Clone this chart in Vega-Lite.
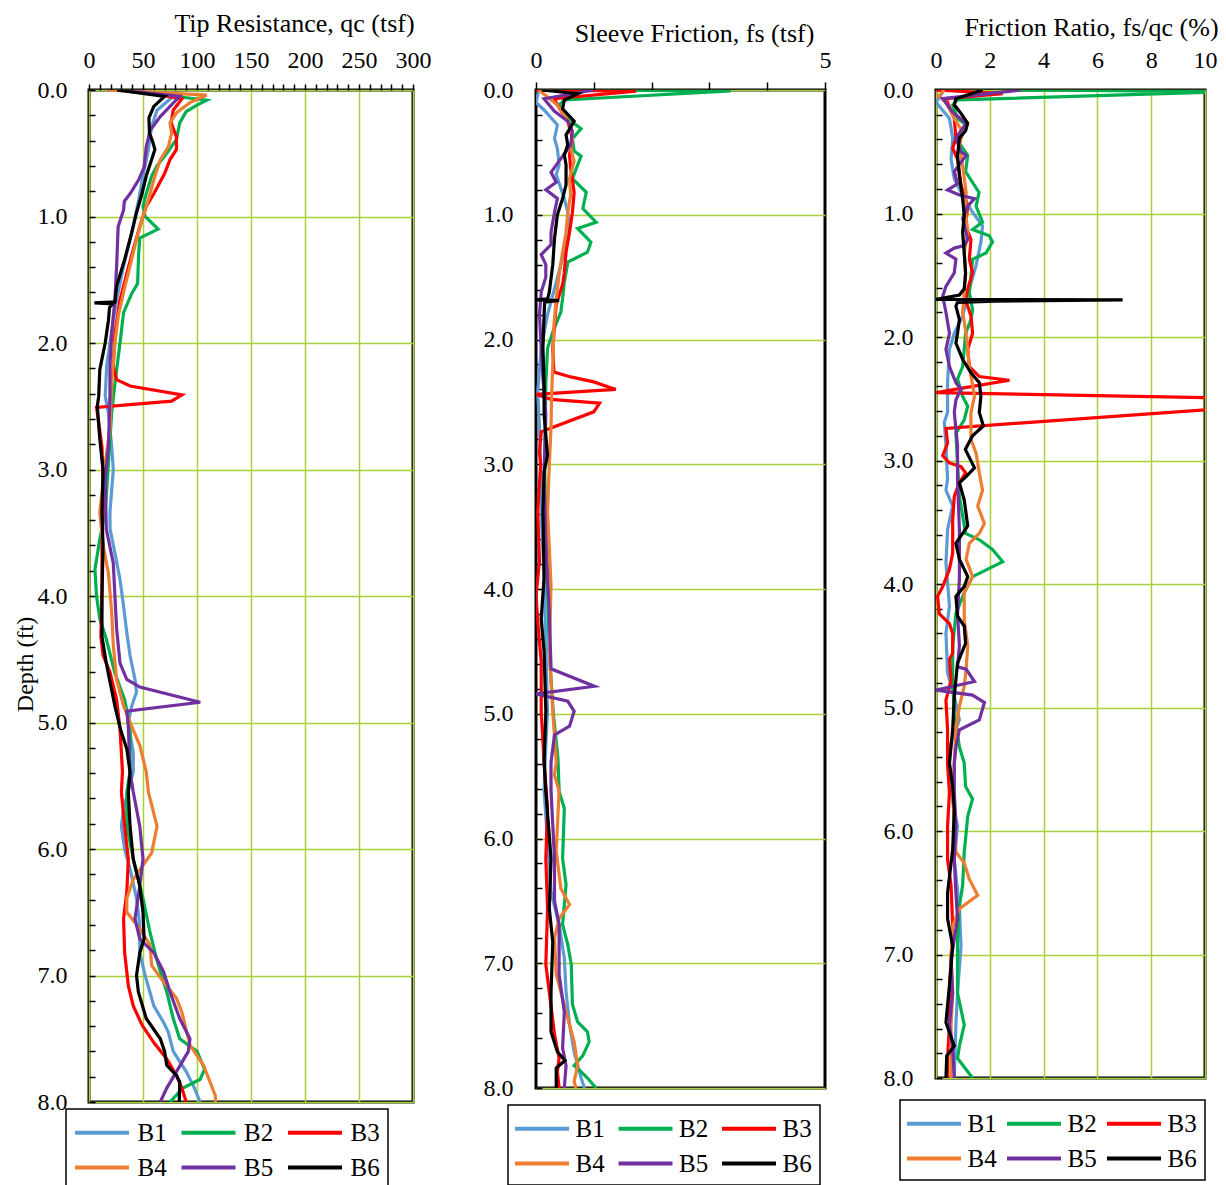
{
"$schema": "https://vega.github.io/schema/vega-lite/v6.json",
"padding": {"left": 11, "top": 8, "right": 2, "bottom": 0},
"spacing": 48,
"datasets": {
"qc": [
{"s":"B1","d":0,"v":24},{"s":"B1","d":0.05,"v":78},{"s":"B1","d":0.16,"v":63},{"s":"B1","d":0.29,"v":58},{"s":"B1","d":0.47,"v":55},{"s":"B1","d":0.68,"v":50},{"s":"B1","d":0.87,"v":46},{"s":"B1","d":1.13,"v":39.5},{"s":"B1","d":1.39,"v":32},{"s":"B1","d":1.66,"v":25.6},{"s":"B1","d":1.82,"v":22.5},{"s":"B1","d":2,"v":19.4},{"s":"B1","d":2.18,"v":16.4},{"s":"B1","d":2.42,"v":15},{"s":"B1","d":2.55,"v":18},{"s":"B1","d":2.82,"v":21},{"s":"B1","d":3,"v":22.5},{"s":"B1","d":3.34,"v":19.4},{"s":"B1","d":3.47,"v":19.5},{"s":"B1","d":3.66,"v":24},{"s":"B1","d":3.87,"v":28.7},{"s":"B1","d":4.08,"v":32},{"s":"B1","d":4.29,"v":35},{"s":"B1","d":4.47,"v":38},{"s":"B1","d":4.66,"v":42.6},{"s":"B1","d":4.76,"v":44},{"s":"B1","d":4.87,"v":39.5},{"s":"B1","d":5,"v":36.4},{"s":"B1","d":5.24,"v":41},{"s":"B1","d":5.39,"v":41},{"s":"B1","d":5.55,"v":36},{"s":"B1","d":5.68,"v":32},{"s":"B1","d":5.82,"v":30},{"s":"B1","d":6,"v":33},{"s":"B1","d":6.16,"v":38},{"s":"B1","d":6.39,"v":44},{"s":"B1","d":6.6,"v":47},{"s":"B1","d":6.82,"v":47},{"s":"B1","d":7,"v":52},{"s":"B1","d":7.24,"v":60},{"s":"B1","d":7.37,"v":69},{"s":"B1","d":7.45,"v":73.5},{"s":"B1","d":7.6,"v":78},{"s":"B1","d":7.76,"v":90},{"s":"B1","d":7.87,"v":96.6},{"s":"B1","d":8,"v":103},
{"s":"B2","d":0,"v":30},{"s":"B2","d":0.08,"v":109},{"s":"B2","d":0.12,"v":100},{"s":"B2","d":0.17,"v":90},{"s":"B2","d":0.26,"v":84},{"s":"B2","d":0.39,"v":81},{"s":"B2","d":0.5,"v":72},{"s":"B2","d":0.6,"v":63},{"s":"B2","d":0.68,"v":58},{"s":"B2","d":0.82,"v":53},{"s":"B2","d":0.92,"v":50},{"s":"B2","d":1,"v":52},{"s":"B2","d":1.1,"v":64},{"s":"B2","d":1.17,"v":47},{"s":"B2","d":1.29,"v":46},{"s":"B2","d":1.53,"v":45},{"s":"B2","d":1.61,"v":39.5},{"s":"B2","d":1.76,"v":32},{"s":"B2","d":2,"v":28.7},{"s":"B2","d":2.32,"v":24},{"s":"B2","d":2.55,"v":21},{"s":"B2","d":2.95,"v":18},{"s":"B2","d":3.34,"v":15},{"s":"B2","d":3.55,"v":10},{"s":"B2","d":3.79,"v":5.5},{"s":"B2","d":4,"v":7},{"s":"B2","d":4.18,"v":10},{"s":"B2","d":4.34,"v":16},{"s":"B2","d":4.61,"v":24},{"s":"B2","d":4.82,"v":33},{"s":"B2","d":5.03,"v":38},{"s":"B2","d":5.39,"v":38},{"s":"B2","d":5.55,"v":35},{"s":"B2","d":5.82,"v":35},{"s":"B2","d":6.08,"v":41},{"s":"B2","d":6.39,"v":50},{"s":"B2","d":6.66,"v":56.5},{"s":"B2","d":6.87,"v":62.6},{"s":"B2","d":7.13,"v":72},{"s":"B2","d":7.34,"v":78},{"s":"B2","d":7.5,"v":84},{"s":"B2","d":7.6,"v":100},{"s":"B2","d":7.74,"v":107},{"s":"B2","d":7.82,"v":103},{"s":"B2","d":7.89,"v":87},{"s":"B2","d":8,"v":75},
{"s":"B3","d":0,"v":40},{"s":"B3","d":0.07,"v":86},{"s":"B3","d":0.16,"v":78},{"s":"B3","d":0.26,"v":76},{"s":"B3","d":0.37,"v":81},{"s":"B3","d":0.47,"v":81},{"s":"B3","d":0.55,"v":75},{"s":"B3","d":0.66,"v":70},{"s":"B3","d":0.82,"v":60},{"s":"B3","d":0.92,"v":53},{"s":"B3","d":1.08,"v":47},{"s":"B3","d":1.26,"v":41},{"s":"B3","d":1.45,"v":35},{"s":"B3","d":1.66,"v":28.7},{"s":"B3","d":1.92,"v":24},{"s":"B3","d":2.18,"v":22.5},{"s":"B3","d":2.29,"v":25.6},{"s":"B3","d":2.34,"v":38},{"s":"B3","d":2.41,"v":86},{"s":"B3","d":2.46,"v":76.5},{"s":"B3","d":2.51,"v":7},{"s":"B3","d":2.82,"v":12},{"s":"B3","d":3.08,"v":13},{"s":"B3","d":3.6,"v":12},{"s":"B3","d":4,"v":12},{"s":"B3","d":4.32,"v":11},{"s":"B3","d":4.47,"v":13},{"s":"B3","d":4.6,"v":19.4},{"s":"B3","d":4.82,"v":25.6},{"s":"B3","d":5.05,"v":28.7},{"s":"B3","d":5.39,"v":31},{"s":"B3","d":5.55,"v":30},{"s":"B3","d":5.82,"v":33},{"s":"B3","d":6.08,"v":36.4},{"s":"B3","d":6.34,"v":35},{"s":"B3","d":6.55,"v":32},{"s":"B3","d":6.82,"v":33},{"s":"B3","d":7.08,"v":36.4},{"s":"B3","d":7.24,"v":41},{"s":"B3","d":7.39,"v":49},{"s":"B3","d":7.53,"v":60},{"s":"B3","d":7.66,"v":72},{"s":"B3","d":7.79,"v":81},{"s":"B3","d":7.89,"v":86},{"s":"B3","d":8,"v":90},
{"s":"B4","d":0,"v":17},{"s":"B4","d":0.04,"v":109},{"s":"B4","d":0.1,"v":93.5},{"s":"B4","d":0.18,"v":81},{"s":"B4","d":0.26,"v":75},{"s":"B4","d":0.34,"v":76.5},{"s":"B4","d":0.45,"v":73.5},{"s":"B4","d":0.55,"v":66},{"s":"B4","d":0.71,"v":60},{"s":"B4","d":0.87,"v":55},{"s":"B4","d":1,"v":50},{"s":"B4","d":1.18,"v":44},{"s":"B4","d":1.39,"v":38},{"s":"B4","d":1.6,"v":32},{"s":"B4","d":1.79,"v":27},{"s":"B4","d":2,"v":24},{"s":"B4","d":2.32,"v":21},{"s":"B4","d":2.68,"v":19.4},{"s":"B4","d":2.95,"v":15},{"s":"B4","d":3.34,"v":10},{"s":"B4","d":3.6,"v":13},{"s":"B4","d":3.82,"v":18},{"s":"B4","d":4.13,"v":21},{"s":"B4","d":4.39,"v":22.5},{"s":"B4","d":4.66,"v":25.6},{"s":"B4","d":4.87,"v":32},{"s":"B4","d":5.03,"v":39.5},{"s":"B4","d":5.18,"v":47},{"s":"B4","d":5.39,"v":53},{"s":"B4","d":5.55,"v":55},{"s":"B4","d":5.82,"v":63},{"s":"B4","d":6.03,"v":58},{"s":"B4","d":6.13,"v":50},{"s":"B4","d":6.24,"v":41},{"s":"B4","d":6.39,"v":35},{"s":"B4","d":6.5,"v":35},{"s":"B4","d":6.63,"v":47},{"s":"B4","d":6.76,"v":56.5},{"s":"B4","d":6.92,"v":58},{"s":"B4","d":7.05,"v":69},{"s":"B4","d":7.18,"v":81},{"s":"B4","d":7.29,"v":86},{"s":"B4","d":7.55,"v":93.5},{"s":"B4","d":7.71,"v":106},{"s":"B4","d":7.84,"v":112},{"s":"B4","d":7.95,"v":117},{"s":"B4","d":8,"v":117},
{"s":"B5","d":0,"v":28},{"s":"B5","d":0.05,"v":84},{"s":"B5","d":0.13,"v":75},{"s":"B5","d":0.21,"v":66},{"s":"B5","d":0.32,"v":56.5},{"s":"B5","d":0.45,"v":53},{"s":"B5","d":0.61,"v":51},{"s":"B5","d":0.71,"v":46},{"s":"B5","d":0.82,"v":38},{"s":"B5","d":0.88,"v":32.7},{"s":"B5","d":0.95,"v":32},{"s":"B5","d":1.08,"v":27},{"s":"B5","d":1.39,"v":25.6},{"s":"B5","d":1.66,"v":24},{"s":"B5","d":1.92,"v":21},{"s":"B5","d":2.18,"v":19.4},{"s":"B5","d":2.42,"v":19.4},{"s":"B5","d":2.82,"v":18},{"s":"B5","d":3.08,"v":15},{"s":"B5","d":3.47,"v":16},{"s":"B5","d":3.74,"v":22.5},{"s":"B5","d":4,"v":24},{"s":"B5","d":4.26,"v":25.6},{"s":"B5","d":4.53,"v":28.7},{"s":"B5","d":4.66,"v":35},{"s":"B5","d":4.72,"v":47},{"s":"B5","d":4.84,"v":103},{"s":"B5","d":4.91,"v":35},{"s":"B5","d":5.03,"v":36.4},{"s":"B5","d":5.39,"v":38},{"s":"B5","d":5.55,"v":41},{"s":"B5","d":5.82,"v":47},{"s":"B5","d":6.08,"v":50},{"s":"B5","d":6.29,"v":47},{"s":"B5","d":6.55,"v":42.6},{"s":"B5","d":6.71,"v":47},{"s":"B5","d":6.82,"v":60},{"s":"B5","d":6.97,"v":69},{"s":"B5","d":7.13,"v":75},{"s":"B5","d":7.34,"v":84},{"s":"B5","d":7.5,"v":93.5},{"s":"B5","d":7.6,"v":92},{"s":"B5","d":7.76,"v":81},{"s":"B5","d":7.89,"v":72},{"s":"B5","d":8,"v":66},
{"s":"B6","d":0,"v":26},{"s":"B6","d":0.05,"v":70},{"s":"B6","d":0.13,"v":60},{"s":"B6","d":0.22,"v":55.5},{"s":"B6","d":0.34,"v":56},{"s":"B6","d":0.41,"v":59},{"s":"B6","d":0.47,"v":61},{"s":"B6","d":0.55,"v":58},{"s":"B6","d":0.68,"v":53},{"s":"B6","d":0.82,"v":49},{"s":"B6","d":0.97,"v":44},{"s":"B6","d":1.13,"v":39.5},{"s":"B6","d":1.34,"v":33},{"s":"B6","d":1.55,"v":25.6},{"s":"B6","d":1.675,"v":24},{"s":"B6","d":1.683,"v":5},{"s":"B6","d":1.69,"v":22},{"s":"B6","d":1.72,"v":19},{"s":"B6","d":1.82,"v":18},{"s":"B6","d":2,"v":15},{"s":"B6","d":2.21,"v":10},{"s":"B6","d":2.42,"v":9},{"s":"B6","d":2.5,"v":7.7},{"s":"B6","d":2.76,"v":10},{"s":"B6","d":3,"v":13},{"s":"B6","d":3.34,"v":12},{"s":"B6","d":3.6,"v":13},{"s":"B6","d":4,"v":12},{"s":"B6","d":4.32,"v":12},{"s":"B6","d":4.53,"v":16},{"s":"B6","d":4.66,"v":19},{"s":"B6","d":4.87,"v":24},{"s":"B6","d":5.05,"v":29},{"s":"B6","d":5.21,"v":35},{"s":"B6","d":5.39,"v":38},{"s":"B6","d":5.55,"v":36.4},{"s":"B6","d":5.82,"v":38},{"s":"B6","d":6.08,"v":41},{"s":"B6","d":6.29,"v":47},{"s":"B6","d":6.5,"v":50},{"s":"B6","d":6.71,"v":51},{"s":"B6","d":6.82,"v":47},{"s":"B6","d":7,"v":44},{"s":"B6","d":7.13,"v":45.7},{"s":"B6","d":7.34,"v":53},{"s":"B6","d":7.5,"v":66},{"s":"B6","d":7.6,"v":70},{"s":"B6","d":7.71,"v":72},{"s":"B6","d":7.79,"v":81},{"s":"B6","d":7.84,"v":84},{"s":"B6","d":8,"v":83.6}
],
"fs": [
{"s":"B1","d":0,"v":0.05},{"s":"B1","d":0.1,"v":0},{"s":"B1","d":0.16,"v":0.14},{"s":"B1","d":0.28,"v":0.37},{"s":"B1","d":0.39,"v":0.32},{"s":"B1","d":0.47,"v":0.37},{"s":"B1","d":0.6,"v":0.4},{"s":"B1","d":0.68,"v":0.35},{"s":"B1","d":0.87,"v":0.49},{"s":"B1","d":0.98,"v":0.55},{"s":"B1","d":1.11,"v":0.58},{"s":"B1","d":1.3,"v":0.49},{"s":"B1","d":1.54,"v":0.35},{"s":"B1","d":1.8,"v":0.2},{"s":"B1","d":2.07,"v":0.09},{"s":"B1","d":2.42,"v":0.03},{"s":"B1","d":2.7,"v":0.06},{"s":"B1","d":3,"v":0.08},{"s":"B1","d":3.38,"v":0.09},{"s":"B1","d":3.91,"v":0.14},{"s":"B1","d":4.45,"v":0.17},{"s":"B1","d":4.98,"v":0.2},{"s":"B1","d":5.25,"v":0.17},{"s":"B1","d":5.62,"v":0.14},{"s":"B1","d":6.02,"v":0.2},{"s":"B1","d":6.43,"v":0.26},{"s":"B1","d":6.69,"v":0.4},{"s":"B1","d":6.96,"v":0.49},{"s":"B1","d":7.23,"v":0.52},{"s":"B1","d":7.49,"v":0.58},{"s":"B1","d":7.71,"v":0.66},{"s":"B1","d":7.92,"v":0.78},{"s":"B1","d":8,"v":0.84},
{"s":"B2","d":0,"v":0.1},{"s":"B2","d":0.008,"v":3.37},{"s":"B2","d":0.08,"v":0.49},{"s":"B2","d":0.12,"v":0.4},{"s":"B2","d":0.23,"v":0.55},{"s":"B2","d":0.31,"v":0.78},{"s":"B2","d":0.39,"v":0.63},{"s":"B2","d":0.49,"v":0.66},{"s":"B2","d":0.53,"v":0.78},{"s":"B2","d":0.71,"v":0.63},{"s":"B2","d":0.82,"v":0.87},{"s":"B2","d":0.95,"v":0.81},{"s":"B2","d":1.06,"v":1.04},{"s":"B2","d":1.11,"v":0.72},{"s":"B2","d":1.22,"v":0.95},{"s":"B2","d":1.3,"v":0.89},{"s":"B2","d":1.38,"v":0.55},{"s":"B2","d":1.54,"v":0.49},{"s":"B2","d":1.67,"v":0.46},{"s":"B2","d":1.78,"v":0.43},{"s":"B2","d":1.94,"v":0.29},{"s":"B2","d":2.07,"v":0.2},{"s":"B2","d":2.34,"v":0.17},{"s":"B2","d":2.7,"v":0.16},{"s":"B2","d":3,"v":0.15},{"s":"B2","d":3.5,"v":0.17},{"s":"B2","d":4,"v":0.2},{"s":"B2","d":4.5,"v":0.23},{"s":"B2","d":5,"v":0.3},{"s":"B2","d":5.36,"v":0.38},{"s":"B2","d":5.62,"v":0.4},{"s":"B2","d":5.76,"v":0.49},{"s":"B2","d":6.16,"v":0.46},{"s":"B2","d":6.37,"v":0.52},{"s":"B2","d":6.69,"v":0.46},{"s":"B2","d":6.85,"v":0.55},{"s":"B2","d":7.01,"v":0.61},{"s":"B2","d":7.33,"v":0.63},{"s":"B2","d":7.47,"v":0.72},{"s":"B2","d":7.55,"v":0.89},{"s":"B2","d":7.63,"v":0.92},{"s":"B2","d":7.74,"v":0.81},{"s":"B2","d":7.82,"v":0.66},{"s":"B2","d":7.87,"v":0.78},{"s":"B2","d":7.92,"v":0.89},{"s":"B2","d":8,"v":1.04},
{"s":"B3","d":0,"v":0},{"s":"B3","d":0.01,"v":1.73},{"s":"B3","d":0.07,"v":0.32},{"s":"B3","d":0.12,"v":0.37},{"s":"B3","d":0.25,"v":0.55},{"s":"B3","d":0.39,"v":0.63},{"s":"B3","d":0.52,"v":0.58},{"s":"B3","d":0.63,"v":0.6},{"s":"B3","d":0.82,"v":0.66},{"s":"B3","d":0.98,"v":0.63},{"s":"B3","d":1.14,"v":0.58},{"s":"B3","d":1.3,"v":0.52},{"s":"B3","d":1.46,"v":0.49},{"s":"B3","d":1.56,"v":0.46},{"s":"B3","d":1.72,"v":0.35},{"s":"B3","d":1.89,"v":0.32},{"s":"B3","d":2.07,"v":0.29},{"s":"B3","d":2.26,"v":0.31},{"s":"B3","d":2.3,"v":0.6},{"s":"B3","d":2.34,"v":1},{"s":"B3","d":2.4,"v":1.38},{"s":"B3","d":2.44,"v":0},{"s":"B3","d":2.48,"v":0.26},{"s":"B3","d":2.51,"v":1.1},{"s":"B3","d":2.58,"v":1},{"s":"B3","d":2.71,"v":0.26},{"s":"B3","d":2.74,"v":0.09},{"s":"B3","d":2.9,"v":0.06},{"s":"B3","d":3,"v":0.08},{"s":"B3","d":3.38,"v":0.03},{"s":"B3","d":3.78,"v":0.06},{"s":"B3","d":4.05,"v":0},{"s":"B3","d":4.26,"v":0.03},{"s":"B3","d":4.58,"v":0.09},{"s":"B3","d":4.98,"v":0.09},{"s":"B3","d":5.39,"v":0.14},{"s":"B3","d":5.76,"v":0.2},{"s":"B3","d":6.16,"v":0.17},{"s":"B3","d":6.56,"v":0.2},{"s":"B3","d":7.01,"v":0.17},{"s":"B3","d":7.23,"v":0.23},{"s":"B3","d":7.57,"v":0.32},{"s":"B3","d":7.76,"v":0.4},{"s":"B3","d":7.87,"v":0.37},{"s":"B3","d":8,"v":0.4},
{"s":"B4","d":0,"v":0.05},{"s":"B4","d":0.12,"v":0.37},{"s":"B4","d":0.28,"v":0.6},{"s":"B4","d":0.39,"v":0.63},{"s":"B4","d":0.47,"v":0.6},{"s":"B4","d":0.57,"v":0.66},{"s":"B4","d":0.71,"v":0.58},{"s":"B4","d":0.84,"v":0.6},{"s":"B4","d":0.98,"v":0.55},{"s":"B4","d":1.14,"v":0.52},{"s":"B4","d":1.3,"v":0.46},{"s":"B4","d":1.48,"v":0.4},{"s":"B4","d":1.67,"v":0.35},{"s":"B4","d":1.89,"v":0.31},{"s":"B4","d":2.21,"v":0.29},{"s":"B4","d":2.45,"v":0.27},{"s":"B4","d":2.7,"v":0.26},{"s":"B4","d":3,"v":0.23},{"s":"B4","d":3.38,"v":0.2},{"s":"B4","d":3.97,"v":0.26},{"s":"B4","d":4.5,"v":0.23},{"s":"B4","d":4.98,"v":0.29},{"s":"B4","d":5.39,"v":0.35},{"s":"B4","d":5.49,"v":0.32},{"s":"B4","d":5.62,"v":0.4},{"s":"B4","d":6.1,"v":0.35},{"s":"B4","d":6.4,"v":0.43},{"s":"B4","d":6.53,"v":0.58},{"s":"B4","d":6.64,"v":0.4},{"s":"B4","d":6.8,"v":0.32},{"s":"B4","d":7.09,"v":0.35},{"s":"B4","d":7.39,"v":0.52},{"s":"B4","d":7.63,"v":0.66},{"s":"B4","d":7.82,"v":0.72},{"s":"B4","d":7.95,"v":0.66},{"s":"B4","d":8,"v":0.69},
{"s":"B5","d":0,"v":1},{"s":"B5","d":0.07,"v":0.14},{"s":"B5","d":0.17,"v":0.32},{"s":"B5","d":0.25,"v":0.55},{"s":"B5","d":0.33,"v":0.63},{"s":"B5","d":0.44,"v":0.6},{"s":"B5","d":0.55,"v":0.43},{"s":"B5","d":0.66,"v":0.26},{"s":"B5","d":0.74,"v":0.35},{"s":"B5","d":0.8,"v":0.17},{"s":"B5","d":0.87,"v":0.37},{"s":"B5","d":0.98,"v":0.32},{"s":"B5","d":1.14,"v":0.26},{"s":"B5","d":1.24,"v":0.26},{"s":"B5","d":1.32,"v":0.09},{"s":"B5","d":1.4,"v":0.17},{"s":"B5","d":1.5,"v":0.17},{"s":"B5","d":1.62,"v":0.09},{"s":"B5","d":1.8,"v":0.06},{"s":"B5","d":2.07,"v":0.09},{"s":"B5","d":2.31,"v":0.12},{"s":"B5","d":2.6,"v":0.17},{"s":"B5","d":3.1,"v":0.14},{"s":"B5","d":3.65,"v":0.17},{"s":"B5","d":4.18,"v":0.23},{"s":"B5","d":4.64,"v":0.26},{"s":"B5","d":4.78,"v":1.01},{"s":"B5","d":4.84,"v":0},{"s":"B5","d":4.9,"v":0.55},{"s":"B5","d":4.98,"v":0.66},{"s":"B5","d":5.1,"v":0.58},{"s":"B5","d":5.17,"v":0.32},{"s":"B5","d":5.39,"v":0.26},{"s":"B5","d":5.62,"v":0.26},{"s":"B5","d":6.16,"v":0.32},{"s":"B5","d":6.5,"v":0.32},{"s":"B5","d":6.69,"v":0.4},{"s":"B5","d":7.09,"v":0.4},{"s":"B5","d":7.39,"v":0.49},{"s":"B5","d":7.68,"v":0.46},{"s":"B5","d":7.82,"v":0.52},{"s":"B5","d":8,"v":0.49},
{"s":"B6","d":0,"v":0.1},{"s":"B6","d":0.03,"v":0.72},{"s":"B6","d":0.08,"v":0.49},{"s":"B6","d":0.15,"v":0.46},{"s":"B6","d":0.25,"v":0.66},{"s":"B6","d":0.36,"v":0.52},{"s":"B6","d":0.44,"v":0.55},{"s":"B6","d":0.52,"v":0.49},{"s":"B6","d":0.6,"v":0.52},{"s":"B6","d":0.76,"v":0.52},{"s":"B6","d":0.87,"v":0.46},{"s":"B6","d":1,"v":0.37},{"s":"B6","d":1.19,"v":0.32},{"s":"B6","d":1.4,"v":0.29},{"s":"B6","d":1.62,"v":0.23},{"s":"B6","d":1.675,"v":0.2},{"s":"B6","d":1.683,"v":0},{"s":"B6","d":1.687,"v":0.4},{"s":"B6","d":1.7,"v":0.15},{"s":"B6","d":1.8,"v":0.14},{"s":"B6","d":2.07,"v":0.12},{"s":"B6","d":2.34,"v":0.14},{"s":"B6","d":2.6,"v":0.14},{"s":"B6","d":2.93,"v":0.2},{"s":"B6","d":3.06,"v":0.14},{"s":"B6","d":3.38,"v":0.12},{"s":"B6","d":3.91,"v":0.14},{"s":"B6","d":4.24,"v":0.09},{"s":"B6","d":4.5,"v":0.14},{"s":"B6","d":4.98,"v":0.17},{"s":"B6","d":5.39,"v":0.14},{"s":"B6","d":5.62,"v":0.17},{"s":"B6","d":6.16,"v":0.26},{"s":"B6","d":6.56,"v":0.23},{"s":"B6","d":6.83,"v":0.29},{"s":"B6","d":7.23,"v":0.26},{"s":"B6","d":7.55,"v":0.26},{"s":"B6","d":7.71,"v":0.37},{"s":"B6","d":7.78,"v":0.5},{"s":"B6","d":7.84,"v":0.35},{"s":"B6","d":8,"v":0.35}
],
"rf": [
{"s":"B1","d":0,"v":0.3},{"s":"B1","d":0.1,"v":0},{"s":"B1","d":0.23,"v":0.5},{"s":"B1","d":0.39,"v":0.62},{"s":"B1","d":0.56,"v":0.56},{"s":"B1","d":0.72,"v":0.68},{"s":"B1","d":0.88,"v":1.05},{"s":"B1","d":0.99,"v":1.36},{"s":"B1","d":1.1,"v":1.73},{"s":"B1","d":1.23,"v":1.67},{"s":"B1","d":1.42,"v":1.49},{"s":"B1","d":1.61,"v":1.24},{"s":"B1","d":1.83,"v":0.99},{"s":"B1","d":1.97,"v":0.68},{"s":"B1","d":2.1,"v":0.5},{"s":"B1","d":2.37,"v":0.43},{"s":"B1","d":2.61,"v":0.43},{"s":"B1","d":2.69,"v":0.31},{"s":"B1","d":2.88,"v":0.37},{"s":"B1","d":3.15,"v":0.43},{"s":"B1","d":3.24,"v":0.37},{"s":"B1","d":3.37,"v":0.62},{"s":"B1","d":3.56,"v":0.43},{"s":"B1","d":3.83,"v":0.37},{"s":"B1","d":4.18,"v":0.5},{"s":"B1","d":4.4,"v":0.37},{"s":"B1","d":4.72,"v":0.43},{"s":"B1","d":4.91,"v":0.68},{"s":"B1","d":5.1,"v":0.87},{"s":"B1","d":5.32,"v":0.5},{"s":"B1","d":5.45,"v":0.43},{"s":"B1","d":5.69,"v":0.56},{"s":"B1","d":5.96,"v":0.8},{"s":"B1","d":6.23,"v":0.68},{"s":"B1","d":6.63,"v":0.87},{"s":"B1","d":6.93,"v":0.93},{"s":"B1","d":7.31,"v":0.8},{"s":"B1","d":7.57,"v":0.74},{"s":"B1","d":8,"v":0.68},
{"s":"B2","d":0,"v":3},{"s":"B2","d":0.012,"v":11},{"s":"B2","d":0.08,"v":0.8},{"s":"B2","d":0.12,"v":0.62},{"s":"B2","d":0.23,"v":0.8},{"s":"B2","d":0.28,"v":1.1},{"s":"B2","d":0.39,"v":0.74},{"s":"B2","d":0.53,"v":1.18},{"s":"B2","d":0.66,"v":1.1},{"s":"B2","d":0.83,"v":1.6},{"s":"B2","d":0.94,"v":1.49},{"s":"B2","d":1.07,"v":1.73},{"s":"B2","d":1.13,"v":1.36},{"s":"B2","d":1.18,"v":1.98},{"s":"B2","d":1.23,"v":2.1},{"s":"B2","d":1.32,"v":1.86},{"s":"B2","d":1.37,"v":1.36},{"s":"B2","d":1.51,"v":1.3},{"s":"B2","d":1.64,"v":1.24},{"s":"B2","d":1.78,"v":1.36},{"s":"B2","d":1.86,"v":1.3},{"s":"B2","d":1.97,"v":1.1},{"s":"B2","d":2.24,"v":0.99},{"s":"B2","d":2.34,"v":0.8},{"s":"B2","d":2.48,"v":0.99},{"s":"B2","d":2.56,"v":1.18},{"s":"B2","d":2.67,"v":1.05},{"s":"B2","d":2.78,"v":0.74},{"s":"B2","d":3.02,"v":0.8},{"s":"B2","d":3.29,"v":0.87},{"s":"B2","d":3.59,"v":1.1},{"s":"B2","d":3.64,"v":1.6},{"s":"B2","d":3.72,"v":2.1},{"s":"B2","d":3.82,"v":2.48},{"s":"B2","d":3.94,"v":1.36},{"s":"B2","d":4.07,"v":1.05},{"s":"B2","d":4.24,"v":0.74},{"s":"B2","d":4.5,"v":0.62},{"s":"B2","d":4.78,"v":0.62},{"s":"B2","d":5.05,"v":0.68},{"s":"B2","d":5.32,"v":0.87},{"s":"B2","d":5.45,"v":1.05},{"s":"B2","d":5.64,"v":1.1},{"s":"B2","d":5.74,"v":1.36},{"s":"B2","d":5.88,"v":1.18},{"s":"B2","d":6.17,"v":1.05},{"s":"B2","d":6.44,"v":0.99},{"s":"B2","d":6.61,"v":0.87},{"s":"B2","d":6.9,"v":0.8},{"s":"B2","d":7.31,"v":0.8},{"s":"B2","d":7.57,"v":1.05},{"s":"B2","d":7.74,"v":0.87},{"s":"B2","d":7.84,"v":0.8},{"s":"B2","d":8,"v":1.36},
{"s":"B3","d":0,"v":0},{"s":"B3","d":0.03,"v":2.48},{"s":"B3","d":0.07,"v":0.37},{"s":"B3","d":0.23,"v":0.68},{"s":"B3","d":0.39,"v":0.74},{"s":"B3","d":0.47,"v":0.62},{"s":"B3","d":0.56,"v":0.8},{"s":"B3","d":0.77,"v":0.93},{"s":"B3","d":0.94,"v":1.18},{"s":"B3","d":1.1,"v":1.1},{"s":"B3","d":1.21,"v":1.3},{"s":"B3","d":1.37,"v":1.24},{"s":"B3","d":1.48,"v":1.36},{"s":"B3","d":1.61,"v":1.18},{"s":"B3","d":1.7,"v":1.1},{"s":"B3","d":1.83,"v":1.3},{"s":"B3","d":1.97,"v":1.36},{"s":"B3","d":2.1,"v":1.18},{"s":"B3","d":2.24,"v":1.24},{"s":"B3","d":2.32,"v":1.61},{"s":"B3","d":2.35,"v":2.73},{"s":"B3","d":2.4,"v":1.36},{"s":"B3","d":2.45,"v":0},{"s":"B3","d":2.495,"v":11},{"s":"B3","d":2.574,"v":11},{"s":"B3","d":2.74,"v":0.37},{"s":"B3","d":2.86,"v":0.43},{"s":"B3","d":2.96,"v":0.25},{"s":"B3","d":3.02,"v":0.5},{"s":"B3","d":3.05,"v":0.93},{"s":"B3","d":3.1,"v":1.1},{"s":"B3","d":3.18,"v":0.87},{"s":"B3","d":3.29,"v":0.68},{"s":"B3","d":3.48,"v":0.62},{"s":"B3","d":3.75,"v":0.62},{"s":"B3","d":3.88,"v":0.5},{"s":"B3","d":4.02,"v":0.25},{"s":"B3","d":4.1,"v":0.06},{"s":"B3","d":4.24,"v":0.12},{"s":"B3","d":4.32,"v":0.5},{"s":"B3","d":4.4,"v":0.62},{"s":"B3","d":4.56,"v":0.62},{"s":"B3","d":4.61,"v":0.5},{"s":"B3","d":4.78,"v":0.56},{"s":"B3","d":4.94,"v":0.37},{"s":"B3","d":5.18,"v":0.43},{"s":"B3","d":5.45,"v":0.43},{"s":"B3","d":5.69,"v":0.5},{"s":"B3","d":5.96,"v":0.43},{"s":"B3","d":6.23,"v":0.43},{"s":"B3","d":6.44,"v":0.56},{"s":"B3","d":6.77,"v":0.62},{"s":"B3","d":7.04,"v":0.56},{"s":"B3","d":7.31,"v":0.5},{"s":"B3","d":7.57,"v":0.5},{"s":"B3","d":7.84,"v":0.43},{"s":"B3","d":8,"v":0.43},
{"s":"B4","d":0,"v":0.3},{"s":"B4","d":0.05,"v":0.1},{"s":"B4","d":0.1,"v":0.37},{"s":"B4","d":0.23,"v":0.68},{"s":"B4","d":0.34,"v":0.99},{"s":"B4","d":0.45,"v":0.87},{"s":"B4","d":0.61,"v":0.99},{"s":"B4","d":0.83,"v":1.12},{"s":"B4","d":0.99,"v":1.1},{"s":"B4","d":1.15,"v":1.18},{"s":"B4","d":1.32,"v":1.05},{"s":"B4","d":1.48,"v":1.1},{"s":"B4","d":1.64,"v":1.05},{"s":"B4","d":1.8,"v":0.99},{"s":"B4","d":1.97,"v":1.12},{"s":"B4","d":2.24,"v":1.24},{"s":"B4","d":2.48,"v":1.43},{"s":"B4","d":2.61,"v":1.3},{"s":"B4","d":2.83,"v":1.3},{"s":"B4","d":2.94,"v":1.49},{"s":"B4","d":3.1,"v":1.61},{"s":"B4","d":3.24,"v":1.73},{"s":"B4","d":3.37,"v":1.55},{"s":"B4","d":3.51,"v":1.8},{"s":"B4","d":3.59,"v":1.61},{"s":"B4","d":3.67,"v":1.24},{"s":"B4","d":3.8,"v":1.12},{"s":"B4","d":3.94,"v":1.36},{"s":"B4","d":4.07,"v":1.05},{"s":"B4","d":4.29,"v":1.05},{"s":"B4","d":4.5,"v":1.18},{"s":"B4","d":4.69,"v":1.12},{"s":"B4","d":4.83,"v":1.05},{"s":"B4","d":4.99,"v":0.87},{"s":"B4","d":5.18,"v":0.74},{"s":"B4","d":5.45,"v":0.68},{"s":"B4","d":5.69,"v":0.62},{"s":"B4","d":5.96,"v":0.68},{"s":"B4","d":6.17,"v":0.74},{"s":"B4","d":6.26,"v":1.05},{"s":"B4","d":6.39,"v":1.24},{"s":"B4","d":6.52,"v":1.55},{"s":"B4","d":6.63,"v":0.87},{"s":"B4","d":6.77,"v":0.62},{"s":"B4","d":7.04,"v":0.56},{"s":"B4","d":7.31,"v":0.62},{"s":"B4","d":7.57,"v":0.56},{"s":"B4","d":8,"v":0.56},
{"s":"B5","d":0,"v":3.16},{"s":"B5","d":0.07,"v":0.25},{"s":"B5","d":0.18,"v":0.62},{"s":"B5","d":0.27,"v":1.12},{"s":"B5","d":0.33,"v":0.93},{"s":"B5","d":0.39,"v":0.74},{"s":"B5","d":0.5,"v":0.93},{"s":"B5","d":0.53,"v":1.12},{"s":"B5","d":0.66,"v":0.68},{"s":"B5","d":0.76,"v":0.8},{"s":"B5","d":0.81,"v":0.43},{"s":"B5","d":0.85,"v":0.87},{"s":"B5","d":0.88,"v":1.43},{"s":"B5","d":0.94,"v":1.18},{"s":"B5","d":1.04,"v":0.99},{"s":"B5","d":1.21,"v":1.18},{"s":"B5","d":1.26,"v":1.05},{"s":"B5","d":1.28,"v":0.68},{"s":"B5","d":1.32,"v":0.37},{"s":"B5","d":1.37,"v":0.74},{"s":"B5","d":1.48,"v":0.68},{"s":"B5","d":1.59,"v":0.37},{"s":"B5","d":1.67,"v":0.25},{"s":"B5","d":1.8,"v":0.37},{"s":"B5","d":1.97,"v":0.5},{"s":"B5","d":2.1,"v":0.37},{"s":"B5","d":2.24,"v":0.5},{"s":"B5","d":2.37,"v":0.74},{"s":"B5","d":2.42,"v":0.93},{"s":"B5","d":2.51,"v":0.74},{"s":"B5","d":2.61,"v":0.68},{"s":"B5","d":2.88,"v":0.8},{"s":"B5","d":3.15,"v":0.8},{"s":"B5","d":3.56,"v":0.87},{"s":"B5","d":3.96,"v":0.87},{"s":"B5","d":4.24,"v":0.8},{"s":"B5","d":4.5,"v":0.87},{"s":"B5","d":4.67,"v":0.8},{"s":"B5","d":4.69,"v":1.12},{"s":"B5","d":4.79,"v":1.43},{"s":"B5","d":4.86,"v":0},{"s":"B5","d":4.9,"v":1.36},{"s":"B5","d":4.96,"v":1.8},{"s":"B5","d":5.1,"v":1.61},{"s":"B5","d":5.18,"v":0.87},{"s":"B5","d":5.32,"v":0.74},{"s":"B5","d":5.45,"v":0.68},{"s":"B5","d":5.69,"v":0.68},{"s":"B5","d":5.96,"v":0.74},{"s":"B5","d":6.23,"v":0.68},{"s":"B5","d":6.5,"v":0.74},{"s":"B5","d":6.71,"v":0.8},{"s":"B5","d":7.04,"v":0.56},{"s":"B5","d":7.31,"v":0.62},{"s":"B5","d":7.57,"v":0.5},{"s":"B5","d":7.76,"v":0.62},{"s":"B5","d":8,"v":0.68},
{"s":"B6","d":0,"v":1.73},{"s":"B6","d":0.07,"v":0.74},{"s":"B6","d":0.12,"v":0.68},{"s":"B6","d":0.19,"v":0.93},{"s":"B6","d":0.27,"v":1.18},{"s":"B6","d":0.33,"v":1.1},{"s":"B6","d":0.39,"v":0.87},{"s":"B6","d":0.53,"v":0.8},{"s":"B6","d":0.69,"v":0.87},{"s":"B6","d":0.88,"v":0.99},{"s":"B6","d":1.02,"v":1.05},{"s":"B6","d":1.15,"v":0.99},{"s":"B6","d":1.32,"v":1.05},{"s":"B6","d":1.48,"v":1.1},{"s":"B6","d":1.61,"v":1.05},{"s":"B6","d":1.66,"v":0.87},{"s":"B6","d":1.695,"v":0},{"s":"B6","d":1.7,"v":6.94},{"s":"B6","d":1.71,"v":2.2},{"s":"B6","d":1.72,"v":0.8},{"s":"B6","d":1.75,"v":0.74},{"s":"B6","d":1.86,"v":0.87},{"s":"B6","d":1.97,"v":0.8},{"s":"B6","d":2.05,"v":0.74},{"s":"B6","d":2.18,"v":0.99},{"s":"B6","d":2.29,"v":1.3},{"s":"B6","d":2.37,"v":1.61},{"s":"B6","d":2.48,"v":1.67},{"s":"B6","d":2.61,"v":1.61},{"s":"B6","d":2.72,"v":1.76},{"s":"B6","d":2.8,"v":1.36},{"s":"B6","d":2.91,"v":1.09},{"s":"B6","d":3.06,"v":1.43},{"s":"B6","d":3.13,"v":1.12},{"s":"B6","d":3.18,"v":0.87},{"s":"B6","d":3.32,"v":1.05},{"s":"B6","d":3.53,"v":1.18},{"s":"B6","d":3.67,"v":0.74},{"s":"B6","d":3.8,"v":0.87},{"s":"B6","d":3.94,"v":1.18},{"s":"B6","d":4.02,"v":1.05},{"s":"B6","d":4.1,"v":0.74},{"s":"B6","d":4.26,"v":0.8},{"s":"B6","d":4.34,"v":1.05},{"s":"B6","d":4.48,"v":1.1},{"s":"B6","d":4.64,"v":0.8},{"s":"B6","d":4.91,"v":0.68},{"s":"B6","d":5.18,"v":0.62},{"s":"B6","d":5.45,"v":0.5},{"s":"B6","d":5.64,"v":0.62},{"s":"B6","d":5.83,"v":0.68},{"s":"B6","d":6.15,"v":0.62},{"s":"B6","d":6.5,"v":0.43},{"s":"B6","d":6.71,"v":0.43},{"s":"B6","d":6.93,"v":0.62},{"s":"B6","d":7.25,"v":0.5},{"s":"B6","d":7.55,"v":0.37},{"s":"B6","d":7.74,"v":0.68},{"s":"B6","d":7.82,"v":0.4},{"s":"B6","d":8,"v":0.37}
]
},
"hconcat": [
{
"width": 324, "height": 1012,
"data": {"name": "qc"},
"layer": [
{"mark": {"type": "line", "strokeOpacity": 0},
 "encoding": {
  "x": {"field": "v", "type": "quantitative", "scale": {"domain": [0, 300], "nice": false, "zero": false},
        "axis": {"orient": "top", "values": [0,10,20,30,40,50,60,70,80,90,100,110,120,130,140,150,160,170,180,190,200,210,220,230,240,250,260,270,280,290,300], "labels": false, "grid": false, "ticks": true, "tickSize": 6, "title": null, "domain": false}},
  "y": {"field": "d", "type": "quantitative", "scale": {"domain": [0, 8], "reverse": true, "nice": false, "zero": false},
        "axis": {"orient": "left", "values": [0,0.2,0.4,0.6,0.8,1,1.2,1.4,1.6,1.8,2,2.2,2.4,2.6,2.8,3,3.2,3.4,3.6,3.8,4,4.2,4.4,4.6,4.8,5,5.2,5.4,5.6,5.8,6,6.2,6.4,6.6,6.8,7,7.2,7.4,7.6,7.8,8], "labels": false, "grid": false, "ticks": true, "tickSize": -6, "title": null, "domain": false}},
  "detail": {"field": "s"},
  "order": {"field": "d", "type": "quantitative"}
 }},
{"mark": {"type": "line", "strokeWidth": 3.2, "clip": true},
 "encoding": {
  "x": {"field": "v", "type": "quantitative", "scale": {"domain": [0, 300], "nice": false, "zero": false},
        "axis": {"orient": "top", "values": [0,50,100,150,200,250,300], "ticks": false, "grid": true, "labelFont": "Liberation Serif", "labelFontSize": 24, "labelPadding": 23, "labelBaseline": "alphabetic", "title": "Tip Resistance, qc (tsf)", "titleFont": "Liberation Serif", "titleFontSize": 26, "titleX": 205, "titleY": -59, "titleBaseline": "alphabetic", "titleAlign": "center"}},
  "y": {"field": "d", "type": "quantitative", "scale": {"domain": [0, 8], "reverse": true, "nice": false, "zero": false},
        "axis": {"orient": "left", "values": [0,1,2,3,4,5,6,7,8], "format": ".1f", "ticks": false, "grid": true, "labelFont": "Liberation Serif", "labelFontSize": 24, "labelPadding": 22, "title": "Depth (ft)", "titleFont": "Liberation Serif", "titleFontSize": 24, "titleX": -64, "titleY": 574, "titleAngle": -90, "titleAlign": "center", "titleBaseline": "middle"}},
  "color": {"field": "s", "type": "nominal", "scale": {"domain": ["B1","B2","B3","B4","B5","B6"], "range": ["#5B9BD5","#00B050","#FF0000","#ED7D31","#7030A0","#000000"]},
        "legend": {"orient": "none", "legendX": -23, "legendY": 1019, "direction": "horizontal", "columns": 3, "title": null, "symbolType": "M-2,0H2", "symbolSize": 729, "symbolOffset": 12.5, "symbolStrokeWidth": 4, "labelOffset": 20, "labelFont": "Liberation Serif", "labelFontSize": 25, "columnPadding": 6.5, "rowPadding": 6, "padding": 8}},
  "order": {"field": "d", "type": "quantitative"}
 }}
],
"resolve": {"axis": {"x": "independent", "y": "independent"}}
},
{
"width": 289, "height": 998,
"data": {"name": "fs"},
"layer": [
{"mark": {"type": "line", "strokeOpacity": 0},
 "encoding": {
  "x": {"field": "v", "type": "quantitative", "scale": {"domain": [0, 5], "nice": false, "zero": false},
        "axis": {"orient": "top", "values": [0,1,2,3,4,5], "labels": false, "grid": false, "ticks": true, "tickSize": 8, "title": null, "domain": false}},
  "y": {"field": "d", "type": "quantitative", "scale": {"domain": [0, 8], "reverse": true, "nice": false, "zero": false},
        "axis": {"orient": "left", "values": [0,0.2,0.4,0.6,0.8,1,1.2,1.4,1.6,1.8,2,2.2,2.4,2.6,2.8,3,3.2,3.4,3.6,3.8,4,4.2,4.4,4.6,4.8,5,5.2,5.4,5.6,5.8,6,6.2,6.4,6.6,6.8,7,7.2,7.4,7.6,7.8,8], "labels": false, "grid": false, "ticks": true, "tickSize": -6, "title": null, "domain": false}},
  "detail": {"field": "s"},
  "order": {"field": "d", "type": "quantitative"}
 }},
{"mark": {"type": "line", "strokeWidth": 3.2, "clip": true},
 "encoding": {
  "x": {"field": "v", "type": "quantitative", "scale": {"domain": [0, 5], "nice": false, "zero": false},
        "axis": {"orient": "top", "values": [0,5], "ticks": false, "grid": false, "labelFont": "Liberation Serif", "labelFontSize": 24, "labelPadding": 23, "labelBaseline": "alphabetic", "title": "Sleeve Friction, fs (tsf)", "titleFont": "Liberation Serif", "titleFontSize": 26, "titleX": 158, "titleY": -49, "titleBaseline": "alphabetic", "titleAlign": "center"}},
  "y": {"field": "d", "type": "quantitative", "scale": {"domain": [0, 8], "reverse": true, "nice": false, "zero": false},
        "axis": {"orient": "left", "values": [0,1,2,3,4,5,6,7,8], "format": ".1f", "ticks": false, "grid": true, "labelFont": "Liberation Serif", "labelFontSize": 24, "labelPadding": 23, "title": null}},
  "color": {"field": "s", "type": "nominal", "scale": {"domain": ["B1","B2","B3","B4","B5","B6"], "range": ["#5B9BD5","#00B050","#FF0000","#ED7D31","#7030A0","#000000"]},
        "legend": {"orient": "none", "legendX": -28, "legendY": 1015, "direction": "horizontal", "columns": 3, "title": null, "symbolType": "M-2,0H2", "symbolSize": 729, "symbolOffset": 10.5, "symbolStrokeWidth": 4, "labelOffset": 18, "labelFont": "Liberation Serif", "labelFontSize": 25, "columnPadding": 5.5, "rowPadding": 6, "padding": 8}},
  "order": {"field": "d", "type": "quantitative"}
 }}
],
"resolve": {"axis": {"x": "independent", "y": "independent"}}
},
{
"width": 269, "height": 988,
"data": {"name": "rf"},
"layer": [
{"mark": {"type": "line", "strokeOpacity": 0},
 "encoding": {
  "x": {"field": "v", "type": "quantitative", "scale": {"domain": [0, 10], "nice": false, "zero": false},
        "axis": {"orient": "top", "values": [0,2,4,6,8,10], "labels": false, "grid": false, "ticks": false, "title": null, "domain": false}},
  "y": {"field": "d", "type": "quantitative", "scale": {"domain": [0, 8], "reverse": true, "nice": false, "zero": false},
        "axis": {"orient": "left", "values": [0,0.2,0.4,0.6,0.8,1,1.2,1.4,1.6,1.8,2,2.2,2.4,2.6,2.8,3,3.2,3.4,3.6,3.8,4,4.2,4.4,4.6,4.8,5,5.2,5.4,5.6,5.8,6,6.2,6.4,6.6,6.8,7,7.2,7.4,7.6,7.8,8], "labels": false, "grid": false, "ticks": true, "tickSize": -6, "title": null, "domain": false}},
  "detail": {"field": "s"},
  "order": {"field": "d", "type": "quantitative"}
 }},
{"mark": {"type": "line", "strokeWidth": 3.2, "clip": true},
 "encoding": {
  "x": {"field": "v", "type": "quantitative", "scale": {"domain": [0, 10], "nice": false, "zero": false},
        "axis": {"orient": "top", "values": [0,2,4,6,8,10], "ticks": false, "grid": true, "labelFont": "Liberation Serif", "labelFontSize": 24, "labelPadding": 23, "labelBaseline": "alphabetic", "title": "Friction Ratio, fs/qc (%)", "titleFont": "Liberation Serif", "titleFontSize": 26, "titleX": 155, "titleY": -55, "titleBaseline": "alphabetic", "titleAlign": "center"}},
  "y": {"field": "d", "type": "quantitative", "scale": {"domain": [0, 8], "reverse": true, "nice": false, "zero": false},
        "axis": {"orient": "left", "values": [0,1,2,3,4,5,6,7,8], "format": ".1f", "ticks": false, "grid": true, "labelFont": "Liberation Serif", "labelFontSize": 24, "labelPadding": 23, "title": null}},
  "color": {"field": "s", "type": "nominal", "scale": {"domain": ["B1","B2","B3","B4","B5","B6"], "range": ["#5B9BD5","#00B050","#FF0000","#ED7D31","#7030A0","#000000"]},
        "legend": {"orient": "none", "legendX": -36, "legendY": 1010, "direction": "horizontal", "columns": 3, "title": null, "symbolType": "M-2,0H2", "symbolSize": 729, "symbolOffset": 10.5, "symbolStrokeWidth": 4, "labelOffset": 18, "labelFont": "Liberation Serif", "labelFontSize": 25, "columnPadding": 2, "rowPadding": 6, "padding": 8}},
  "order": {"field": "d", "type": "quantitative"}
 }}
],
"resolve": {"axis": {"x": "independent", "y": "independent"}}
}
],
"resolve": {"scale": {"color": "independent"}, "legend": {"color": "independent"}},
"config": {
 "font": "Liberation Serif",
 "view": {"stroke": "#000000", "strokeWidth": 3},
 "axis": {"labelFont": "Liberation Serif", "labelFontSize": 24, "labelColor": "#000000", "titleFont": "Liberation Serif", "titleFontSize": 24, "titleFontWeight": "normal", "titleColor": "#000000", "gridColor": "#A6D13B", "gridWidth": 1.5, "gridOpacity": 1, "domain": false, "tickColor": "#000000", "tickWidth": 1.5, "labelFlush": false, "labelOverlap": false},
 "legend": {"labelFont": "Liberation Serif", "labelFontSize": 25, "labelColor": "#000000", "strokeColor": "#000000", "strokeWidth": 1.5}
}
}
